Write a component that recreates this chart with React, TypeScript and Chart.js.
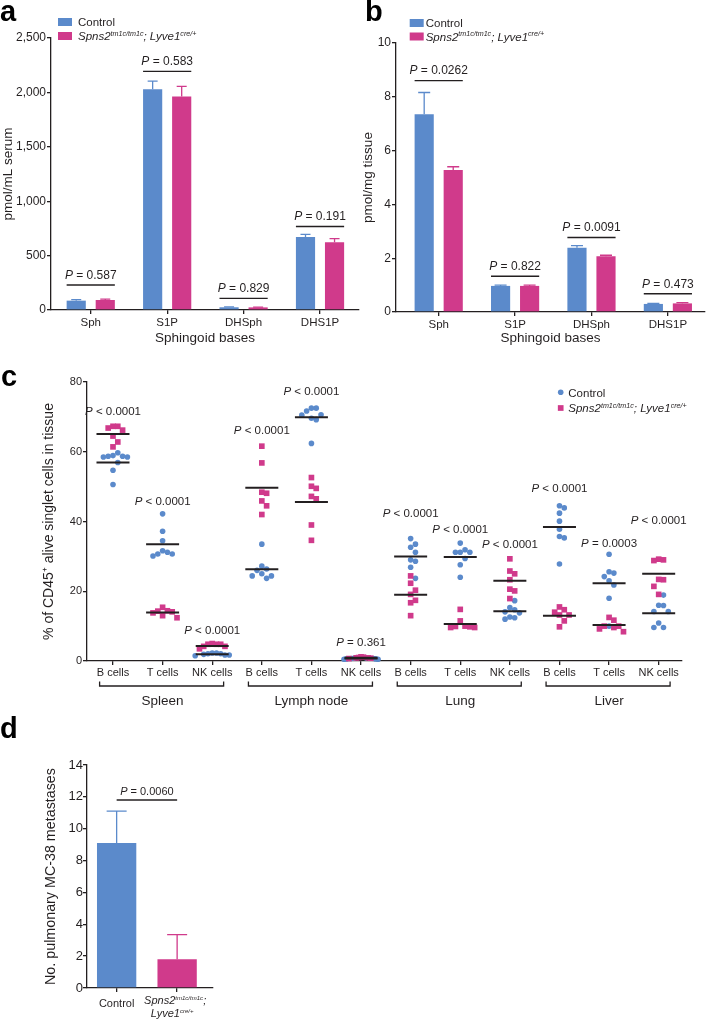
import React, { useEffect, useRef } from 'react';
import { Chart, registerables } from 'chart.js';

Chart.register(...registerables);

const FONT = '"Liberation Sans", Arial, Helvetica, sans-serif';
const BLUE = '#5b8acb';
const MAGENTA = '#d03a8b';
const INK = '#231f20';

// ---------- Panel a: serum sphingoid bases (pmol/mL) ----------
const baseCategories = ['Sph', 'S1P', 'DHSph', 'DHS1P'];
const serumControl = [86, 2030, 25, 672];
const serumControlTop = [96, 2104, 28, 696];
const serumMutant = [92, 1963, 24, 623];
const serumMutantTop = [100, 2055, 27, 656];
const serumP = ['= 0.587', '= 0.583', '= 0.829', '= 0.191'];
const serumPLevel = [230, 2193, 107, 767];

// ---------- Panel b: tissue sphingoid bases (pmol/mg) ----------
const tissueControl = [7.35, 0.97, 2.39, 0.3];
const tissueControlTop = [8.16, 1.0, 2.47, 0.32];
const tissueMutant = [5.28, 0.97, 2.07, 0.32];
const tissueMutantTop = [5.4, 1.0, 2.11, 0.35];
const tissueP = ['= 0.0262', '= 0.822', '= 0.0091', '= 0.473'];
const tissuePLevel = [8.6, 1.33, 2.77, 0.68];

// ---------- Panel c: % of CD45+ cells ----------
const cellTypes = [
  'B cells', 'T cells', 'NK cells',
  'B cells', 'T cells', 'NK cells',
  'B cells', 'T cells', 'NK cells',
  'B cells', 'T cells', 'NK cells',
];
const tissues = ['Spleen', 'Lymph node', 'Lung', 'Liver'];
const controlPct = [
  [59.7, 58.7, 58.5, 58.5, 58.7, 58.9, 56.9, 54.7, 50.6],
  [42.2, 37.2, 34.5, 31.6, 30.7, 30.1, 30.7, 31.2],
  [2.1, 1.7, 1.5, 1.7, 1.9, 2.1, 2.3, 2.3],
  [33.5, 27.2, 26.4, 26.0, 24.4, 23.7, 24.4, 25.0],
  [71.7, 72.5, 72.5, 70.6, 70.5, 69.2, 69.6, 62.4],
  [0.5, 0.6, 0.7, 0.6, 0.8, 0.9, 0.5, 0.7],
  [35.1, 32.6, 33.5, 31.2, 29.0, 28.6, 26.9, 23.7],
  [33.8, 31.2, 31.2, 31.2, 31.9, 29.4, 27.6, 24.0],
  [17.3, 15.3, 14.7, 14.1, 13.8, 12.6, 12.0, 12.4],
  [44.5, 43.9, 42.4, 40.1, 37.8, 35.3, 35.7, 27.8],
  [30.6, 25.6, 24.2, 25.2, 23.0, 21.8, 18.0, 10.0],
  [18.9, 16.0, 14.2, 14.2, 15.9, 10.9, 9.6, 9.6],
];
const mutantPct = [
  [66.8, 67.3, 67.3, 66.2, 64.5, 62.8, 61.4],
  [14.3, 13.8, 15.4, 14.1, 14.4, 12.4, 13.0],
  [4.8, 4.2, 3.5, 4.2, 4.8, 5.0, 4.8],
  [61.6, 56.8, 48.4, 48.1, 44.5, 45.9, 42.0],
  [52.6, 50.1, 49.5, 46.5, 47.2, 39.0, 34.6],
  [1.2, 0.9, 1.0, 0.8, 1.1, 0.7, 0.9],
  [24.4, 22.3, 20.3, 19.1, 17.4, 16.7, 13.0],
  [14.8, 11.5, 10.0, 9.8, 9.6, 9.6, 9.9],
  [29.3, 25.8, 25.0, 23.3, 20.6, 20.1, 17.9],
  [14.7, 15.5, 14.0, 13.2, 13.2, 11.5, 9.8],
  [11.7, 12.5, 10.0, 10.0, 8.4, 9.2, 9.6],
  [29.2, 28.8, 29.0, 23.3, 23.4, 21.4, 19.1],
];
const controlMean = [56.9, 33.5, 1.9, 26.3, 69.9, 0.7, 30.0, 29.8, 14.3, 38.4, 22.3, 13.7];
const mutantMean = [65.1, 13.9, 4.3, 49.7, 45.6, 0.9, 19.0, 10.6, 23.0, 13.0, 10.3, 25.0];
const cellPText = [
  '< 0.0001', '< 0.0001', '< 0.0001',
  '< 0.0001', '< 0.0001', '= 0.361',
  '< 0.0001', '< 0.0001', '< 0.0001',
  '< 0.0001', '= 0.0003', '< 0.0001',
];
const cellPLevel = [71.6, 45.8, 8.9, 66.2, 77.4, 5.4, 42.4, 37.8, 33.5, 49.6, 33.8, 40.4];

// ---------- Panel d: metastases ----------
const metGroups = ['Control', 'Mutant'];
const metMeans = [9.1, 1.8];
const metTops = [11.1, 3.35];
const metP = '= 0.0060';
const metPLevel = 11.8;

type Seg = { t: string; it?: boolean; sup?: boolean };

const mutantLegend: Seg[] = [
  { t: 'Spns2', it: true },
  { t: 'tm1c/tm1c', it: true, sup: true },
  { t: '; Lyve1', it: true },
  { t: 'cre/+', it: true, sup: true },
];

function drawRich(
  ctx: CanvasRenderingContext2D,
  segs: Seg[],
  x: number,
  yc: number,
  size: number,
  align: 'left' | 'center' | 'right' = 'left',
  supRatio = 0.62,
  color = INK
) {
  const parts = segs.map((s) => {
    const fs = s.sup ? size * supRatio : size;
    const font = `${s.it ? 'italic ' : ''}${fs}px ${FONT}`;
    ctx.font = font;
    return { s, font, w: ctx.measureText(s.t).width };
  });
  const total = parts.reduce((a, p) => a + p.w, 0);
  let cx = align === 'left' ? x : align === 'center' ? x - total / 2 : x - total;
  const base = yc + size * 0.358;
  ctx.save();
  ctx.fillStyle = color;
  ctx.textBaseline = 'alphabetic';
  ctx.textAlign = 'left';
  for (const p of parts) {
    ctx.font = p.font;
    ctx.fillText(p.s.t, cx, p.s.sup ? base - size * 0.4 : base);
    cx += p.w;
  }
  ctx.restore();
}

function hline(ctx: CanvasRenderingContext2D, x0: number, x1: number, y: number, color = INK, w = 1.3) {
  ctx.save();
  ctx.strokeStyle = color;
  ctx.lineWidth = w;
  ctx.beginPath();
  ctx.moveTo(x0, y);
  ctx.lineTo(x1, y);
  ctx.stroke();
  ctx.restore();
}

function errBar(ctx: CanvasRenderingContext2D, x: number, y0: number, y1: number, half: number, color: string) {
  ctx.save();
  ctx.strokeStyle = color;
  ctx.lineWidth = 1.3;
  ctx.beginPath();
  ctx.moveTo(x, y0);
  ctx.lineTo(x, y1);
  ctx.moveTo(x - half, y1);
  ctx.lineTo(x + half, y1);
  ctx.stroke();
  ctx.restore();
}

const axisStyle = (size: number, pad: number) => ({
  border: { display: true, color: INK, width: 1.3 },
  grid: { display: true, drawOnChartArea: false, drawTicks: true, tickLength: 4, color: INK, lineWidth: 1.3, offset: false },
  ticks: { color: INK, font: { family: FONT, size }, padding: pad, autoSkip: false, maxRotation: 0 },
});

interface BarSpec {
  ctrl: number[];
  ctrlTop: number[];
  mut: number[];
  mutTop: number[];
  pText: string[];
  pLevel: number[];
  yTicks: number[];
  yTitle: string;
  xMin: number;
  xMax: number;
  yWidth: number;
  xHeight: number;
  pad: { top: number; right: number; bottom: number; left: number };
  yTitlePad: number;
  capHalf: number;
  legend: { rectX: number; textX: number; y1: number; y2: number };
}

function barConfig(s: BarSpec): any {
  const plugin = {
    id: 'barExtras',
    afterDatasetsDraw(chart: any) {
      const ctx: CanvasRenderingContext2D = chart.ctx;
      const y = chart.scales.y;
      const m0 = chart.getDatasetMeta(0);
      const m1 = chart.getDatasetMeta(1);
      m0.data.forEach((el: any, j: number) => errBar(ctx, el.x, el.y, y.getPixelForValue(s.ctrlTop[j]), s.capHalf, BLUE));
      m1.data.forEach((el: any, j: number) => errBar(ctx, el.x, el.y, y.getPixelForValue(s.mutTop[j]), s.capHalf, MAGENTA));
      s.pLevel.forEach((lv, j) => {
        const a: any = m0.data[j];
        const b: any = m1.data[j];
        const x0 = a.x - a.width / 2;
        const x1 = b.x + b.width / 2;
        const yl = y.getPixelForValue(lv);
        hline(ctx, x0, x1, yl, INK, 1.4);
        drawRich(ctx, [{ t: 'P', it: true }, { t: ' ' + s.pText[j] }], (x0 + x1) / 2, yl - 10.5, 12, 'center');
      });
      const L = s.legend;
      ctx.save();
      ctx.fillStyle = BLUE;
      ctx.fillRect(L.rectX, L.y1 - 4, 14, 8);
      ctx.fillStyle = MAGENTA;
      ctx.fillRect(L.rectX, L.y2 - 4, 14, 8);
      ctx.restore();
      drawRich(ctx, [{ t: 'Control' }], L.textX, L.y1, 11.5, 'left');
      drawRich(ctx, mutantLegend, L.textX, L.y2, 11.5, 'left');
    },
  };
  const xs = axisStyle(11.5, 2);
  const ys = axisStyle(12, 1);
  return {
    type: 'bar',
    data: {
      datasets: [
        {
          label: 'Control',
          data: s.ctrl.map((v, i) => ({ x: i, y: v })),
          backgroundColor: BLUE,
          borderWidth: 0,
          categoryPercentage: 0.76,
          barPercentage: 0.66,
        },
        {
          label: 'Spns2 tm1c/tm1c; Lyve1 cre/+',
          data: s.mut.map((v, i) => ({ x: i, y: v })),
          backgroundColor: MAGENTA,
          borderWidth: 0,
          categoryPercentage: 0.76,
          barPercentage: 0.66,
        },
      ],
    },
    options: {
      animation: false,
      responsive: false,
      maintainAspectRatio: false,
      events: [],
      layout: { padding: s.pad },
      plugins: { legend: { display: false }, tooltip: { enabled: false } },
      scales: {
        x: {
          type: 'linear',
          min: s.xMin,
          max: s.xMax,
          offset: false,
          ...xs,
          ticks: { ...xs.ticks, callback: (v: number) => baseCategories[v] ?? '' },
          afterBuildTicks: (ax: any) => {
            ax.ticks = baseCategories.map((_, i) => ({ value: i }));
          },
          afterFit: (ax: any) => {
            ax.height = s.xHeight;
          },
          title: {
            display: true,
            text: 'Sphingoid bases',
            color: INK,
            font: { family: FONT, size: 13.5 },
            padding: { top: 0, bottom: 2 },
          },
        },
        y: {
          type: 'linear',
          min: 0,
          max: s.yTicks[s.yTicks.length - 1],
          ...ys,
          ticks: { ...ys.ticks, callback: (v: number) => v.toLocaleString('en-US') },
          afterBuildTicks: (ax: any) => {
            ax.ticks = s.yTicks.map((v) => ({ value: v }));
          },
          afterFit: (ax: any) => {
            ax.width = s.yWidth;
          },
          title: {
            display: true,
            text: s.yTitle,
            color: INK,
            font: { family: FONT, size: 13.5 },
            padding: { top: s.yTitlePad, bottom: 0 },
          },
        },
      },
    },
    plugins: [plugin],
  };
}

// Column-scatter layout (Prism-like): points whose values are close are
// spread sideways on a fixed grid; returns horizontal pixel offsets.
function columnScatter(ys: number[], pxPerY: number, step: number, dx: number, dy: number, maxHalf: number): number[] {
  const order = ys.map((_, i) => i).sort((a, b) => ys[b] - ys[a]);
  const placed: { x: number; y: number }[] = [];
  const out = new Array(ys.length).fill(0);
  for (const i of order) {
    const y = ys[i] * pxPerY;
    let x = 0;
    for (let k = 0; k < 60; k++) {
      const c = k === 0 ? 0 : (k % 2 === 1 ? 1 : -1) * Math.ceil(k / 2) * step;
      if (placed.every((p) => Math.abs(p.x - c) >= dx || Math.abs(p.y - y) >= dy)) {
        x = c;
        break;
      }
    }
    placed.push({ x, y });
    out[i] = x;
  }
  const m = Math.max(...out.map((v) => Math.abs(v)));
  if (m > maxHalf) return out.map((v) => (v * maxHalf) / m);
  return out;
}

function cellConfig(): any {
  const pxPerX = 49.6;
  const pxPerY = 3.49;
  const ctrlPts: { x: number; y: number }[] = [];
  const mutPts: { x: number; y: number }[] = [];
  const meanPts: { x: number; y: number }[] = [];
  controlPct.forEach((cv, i) => {
    const mv = mutantPct[i];
    const offs = columnScatter([...cv, ...mv], pxPerY, 4.8, 4.7, 7, 17);
    cv.forEach((v, k) => ctrlPts.push({ x: i + offs[k] / pxPerX, y: v }));
    mv.forEach((v, k) => mutPts.push({ x: i + offs[cv.length + k] / pxPerX, y: v }));
    meanPts.push({ x: i, y: controlMean[i] }, { x: i, y: mutantMean[i] });
  });

  const plugin = {
    id: 'cellExtras',
    afterDraw(chart: any) {
      const ctx: CanvasRenderingContext2D = chart.ctx;
      const xs = chart.scales.x;
      const ys = chart.scales.y;
      cellPText.forEach((t, i) => {
        drawRich(ctx, [{ t: 'P', it: true }, { t: ' ' + t }], xs.getPixelForValue(i), ys.getPixelForValue(cellPLevel[i]), 11.5, 'center');
      });
      tissues.forEach((name, g) => {
        const x0 = xs.getPixelForValue(g * 3 - 0.27);
        const x1 = xs.getPixelForValue(g * 3 + 2 + 0.23);
        const yb = 326;
        ctx.save();
        ctx.strokeStyle = INK;
        ctx.lineWidth = 1.3;
        ctx.beginPath();
        ctx.moveTo(x0, yb - 4.5);
        ctx.lineTo(x0, yb);
        ctx.lineTo(x1, yb);
        ctx.lineTo(x1, yb - 4.5);
        ctx.stroke();
        ctx.restore();
        drawRich(ctx, [{ t: name }], xs.getPixelForValue(g * 3 + 1), 340, 13.5, 'center');
      });
      // legend
      ctx.save();
      ctx.fillStyle = BLUE;
      ctx.beginPath();
      ctx.arc(560.7, 32.3, 2.8, 0, Math.PI * 2);
      ctx.fill();
      ctx.fillStyle = MAGENTA;
      ctx.fillRect(560.7 - 2.85, 48 - 2.85, 5.7, 5.7);
      ctx.restore();
      drawRich(ctx, [{ t: 'Control' }], 568.3, 32.8, 11.5, 'left');
      drawRich(ctx, mutantLegend, 568.3, 48, 11.5, 'left');
    },
  };
  const xs = axisStyle(11, 1);
  const ys = axisStyle(11, 1);
  return {
    type: 'scatter',
    data: {
      datasets: [
        {
          label: 'mean',
          data: meanPts,
          pointStyle: 'line',
          pointRadius: 16.5,
          pointBorderWidth: 2,
          pointBorderColor: INK,
          order: 0,
          clip: false,
        },
        {
          label: 'Spns2 tm1c/tm1c; Lyve1 cre/+',
          data: mutPts,
          pointStyle: 'rect',
          pointRadius: 4,
          pointBackgroundColor: MAGENTA,
          pointBorderWidth: 0,
          pointBorderColor: MAGENTA,
          order: 1,
          clip: false,
        },
        {
          label: 'Control',
          data: ctrlPts,
          pointStyle: 'circle',
          pointRadius: 2.8,
          pointBackgroundColor: BLUE,
          pointBorderWidth: 0,
          pointBorderColor: BLUE,
          order: 2,
          clip: false,
        },
      ],
    },
    options: {
      animation: false,
      responsive: false,
      maintainAspectRatio: false,
      events: [],
      layout: { padding: { top: 22, right: 24, bottom: 39, left: 0 } },
      plugins: { legend: { display: false }, tooltip: { enabled: false } },
      scales: {
        x: {
          type: 'linear',
          min: -0.524,
          max: 11.47,
          offset: false,
          ...xs,
          ticks: { ...xs.ticks, callback: (v: number) => cellTypes[v] ?? '' },
          afterBuildTicks: (ax: any) => {
            ax.ticks = cellTypes.map((_, i) => ({ value: i }));
          },
          afterFit: (ax: any) => {
            ax.height = 20;
          },
        },
        y: {
          type: 'linear',
          min: 0,
          max: 80,
          ...ys,
          ticks: { ...ys.ticks, stepSize: 20 },
          afterFit: (ax: any) => {
            ax.width = 87;
          },
          title: {
            display: true,
            text: '% of CD45\u207A alive singlet cells in tissue',
            color: INK,
            font: { family: FONT, size: 14 },
            padding: { top: 40.5, bottom: 0 },
          },
        },
      },
    },
    plugins: [plugin],
  };
}

function metConfig(): any {
  const plugin = {
    id: 'metExtras',
    afterDatasetsDraw(chart: any) {
      const ctx: CanvasRenderingContext2D = chart.ctx;
      const y = chart.scales.y;
      const meta = chart.getDatasetMeta(0);
      const cols = [BLUE, MAGENTA];
      meta.data.forEach((el: any, j: number) => errBar(ctx, el.x, el.y, y.getPixelForValue(metTops[j]), 10, cols[j]));
      const a: any = meta.data[0];
      const b: any = meta.data[1];
      const yl = y.getPixelForValue(metPLevel);
      hline(ctx, a.x, b.x, yl, INK, 1.4);
      drawRich(ctx, [{ t: 'P', it: true }, { t: ' ' + metP }], (a.x + b.x) / 2, yl - 9, 11, 'center');
      drawRich(ctx, [{ t: metGroups[0] }], a.x, 263, 11, 'center');
      drawRich(ctx, [{ t: 'Spns2', it: true }, { t: 'tm1c/tm1c', it: true, sup: true }, { t: ';', it: true }], b.x - 2, 260.5, 11, 'center', 0.55);
      drawRich(ctx, [{ t: 'Lyve1', it: true }, { t: 'cre/+', it: true, sup: true }], b.x - 5, 273.5, 11, 'center', 0.55);
    },
  };
  const xs = axisStyle(11, 1);
  const ys = axisStyle(13, 0);
  return {
    type: 'bar',
    data: {
      datasets: [
        {
          label: 'No. pulmonary MC-38 metastases',
          data: metMeans.map((v, i) => ({ x: i, y: v })),
          backgroundColor: [BLUE, MAGENTA],
          borderWidth: 0,
          categoryPercentage: 1,
          barPercentage: 0.65,
        },
      ],
    },
    options: {
      animation: false,
      responsive: false,
      maintainAspectRatio: false,
      events: [],
      layout: { padding: { top: 25, right: 47, bottom: 0, left: 0 } },
      plugins: { legend: { display: false }, tooltip: { enabled: false } },
      scales: {
        x: {
          type: 'linear',
          min: -0.49,
          max: 1.593,
          offset: false,
          ...xs,
          ticks: { ...xs.ticks, callback: () => '' },
          afterBuildTicks: (ax: any) => {
            ax.ticks = metGroups.map((_, i) => ({ value: i }));
          },
          afterFit: (ax: any) => {
            ax.height = 32;
          },
        },
        y: {
          type: 'linear',
          min: 0,
          max: 14,
          ...ys,
          ticks: { ...ys.ticks, stepSize: 2 },
          afterFit: (ax: any) => {
            ax.width = 87;
          },
          title: {
            display: true,
            text: 'No. pulmonary MC-38 metastases',
            color: INK,
            font: { family: FONT, size: 14.3 },
            padding: { top: 42.4, bottom: 0 },
          },
        },
      },
    },
    plugins: [plugin],
  };
}

function ChartCanvas({ left, top, width, height, make }: { left: number; top: number; width: number; height: number; make: () => any }) {
  const ref = useRef<HTMLCanvasElement>(null);
  useEffect(() => {
    if (!ref.current) return;
    const chart = new Chart(ref.current, make());
    return () => chart.destroy();
  }, []);
  return (
    <canvas
      ref={ref}
      width={width}
      height={height}
      style={{ position: 'absolute', left, top, width, height, display: 'block' }}
    />
  );
}

function Letter({ ch, left, baseline }: { ch: string; left: number; baseline: number }) {
  return (
    <div
      style={{
        position: 'absolute',
        left,
        top: baseline - 24.5,
        font: `bold 29px ${FONT}`,
        lineHeight: '29px',
        color: '#000',
      }}
    >
      {ch}
    </div>
  );
}

export default function App() {
  return (
    <div style={{ position: 'absolute', left: 0, top: 0, width: 706, height: 1020, background: '#fff', overflow: 'hidden' }}>
      <ChartCanvas
        left={0}
        top={0}
        width={362}
        height={348}
        make={() =>
          barConfig({
            ctrl: serumControl,
            ctrlTop: serumControlTop,
            mut: serumMutant,
            mutTop: serumMutantTop,
            pText: serumP,
            pLevel: serumPLevel,
            yTicks: [0, 500, 1000, 1500, 2000, 2500],
            yTitle: 'pmol/mL serum',
            xMin: -0.52,
            xMax: 3.51,
            yWidth: 51,
            xHeight: 38,
            pad: { top: 38, right: 3, bottom: 0, left: 0 },
            yTitlePad: 0,
            capHalf: 5,
            legend: { rectX: 58, textX: 78, y1: 22, y2: 36 },
          })
        }
      />
      <ChartCanvas
        left={353}
        top={0}
        width={353}
        height={348}
        make={() =>
          barConfig({
            ctrl: tissueControl,
            ctrlTop: tissueControlTop,
            mut: tissueMutant,
            mutTop: tissueMutantTop,
            pText: tissueP,
            pLevel: tissuePLevel,
            yTicks: [0, 2, 4, 6, 8, 10],
            yTitle: 'pmol/mg tissue',
            xMin: -0.559,
            xMax: 3.486,
            yWidth: 43,
            xHeight: 36,
            pad: { top: 43, right: 1, bottom: 0, left: 0 },
            yTitlePad: 7,
            capHalf: 6,
            legend: { rectX: 56.7, textX: 72.7, y1: 23, y2: 36.5 },
          })
        }
      />
      <ChartCanvas left={0} top={360} width={706} height={360} make={cellConfig} />
      <ChartCanvas left={0} top={740} width={260} height={280} make={metConfig} />
      <Letter ch="a" left={0} baseline={21.7} />
      <Letter ch="b" left={365} baseline={21.7} />
      <Letter ch="c" left={1} baseline={386.7} />
      <Letter ch="d" left={0} baseline={738.3} />
    </div>
  );
}
